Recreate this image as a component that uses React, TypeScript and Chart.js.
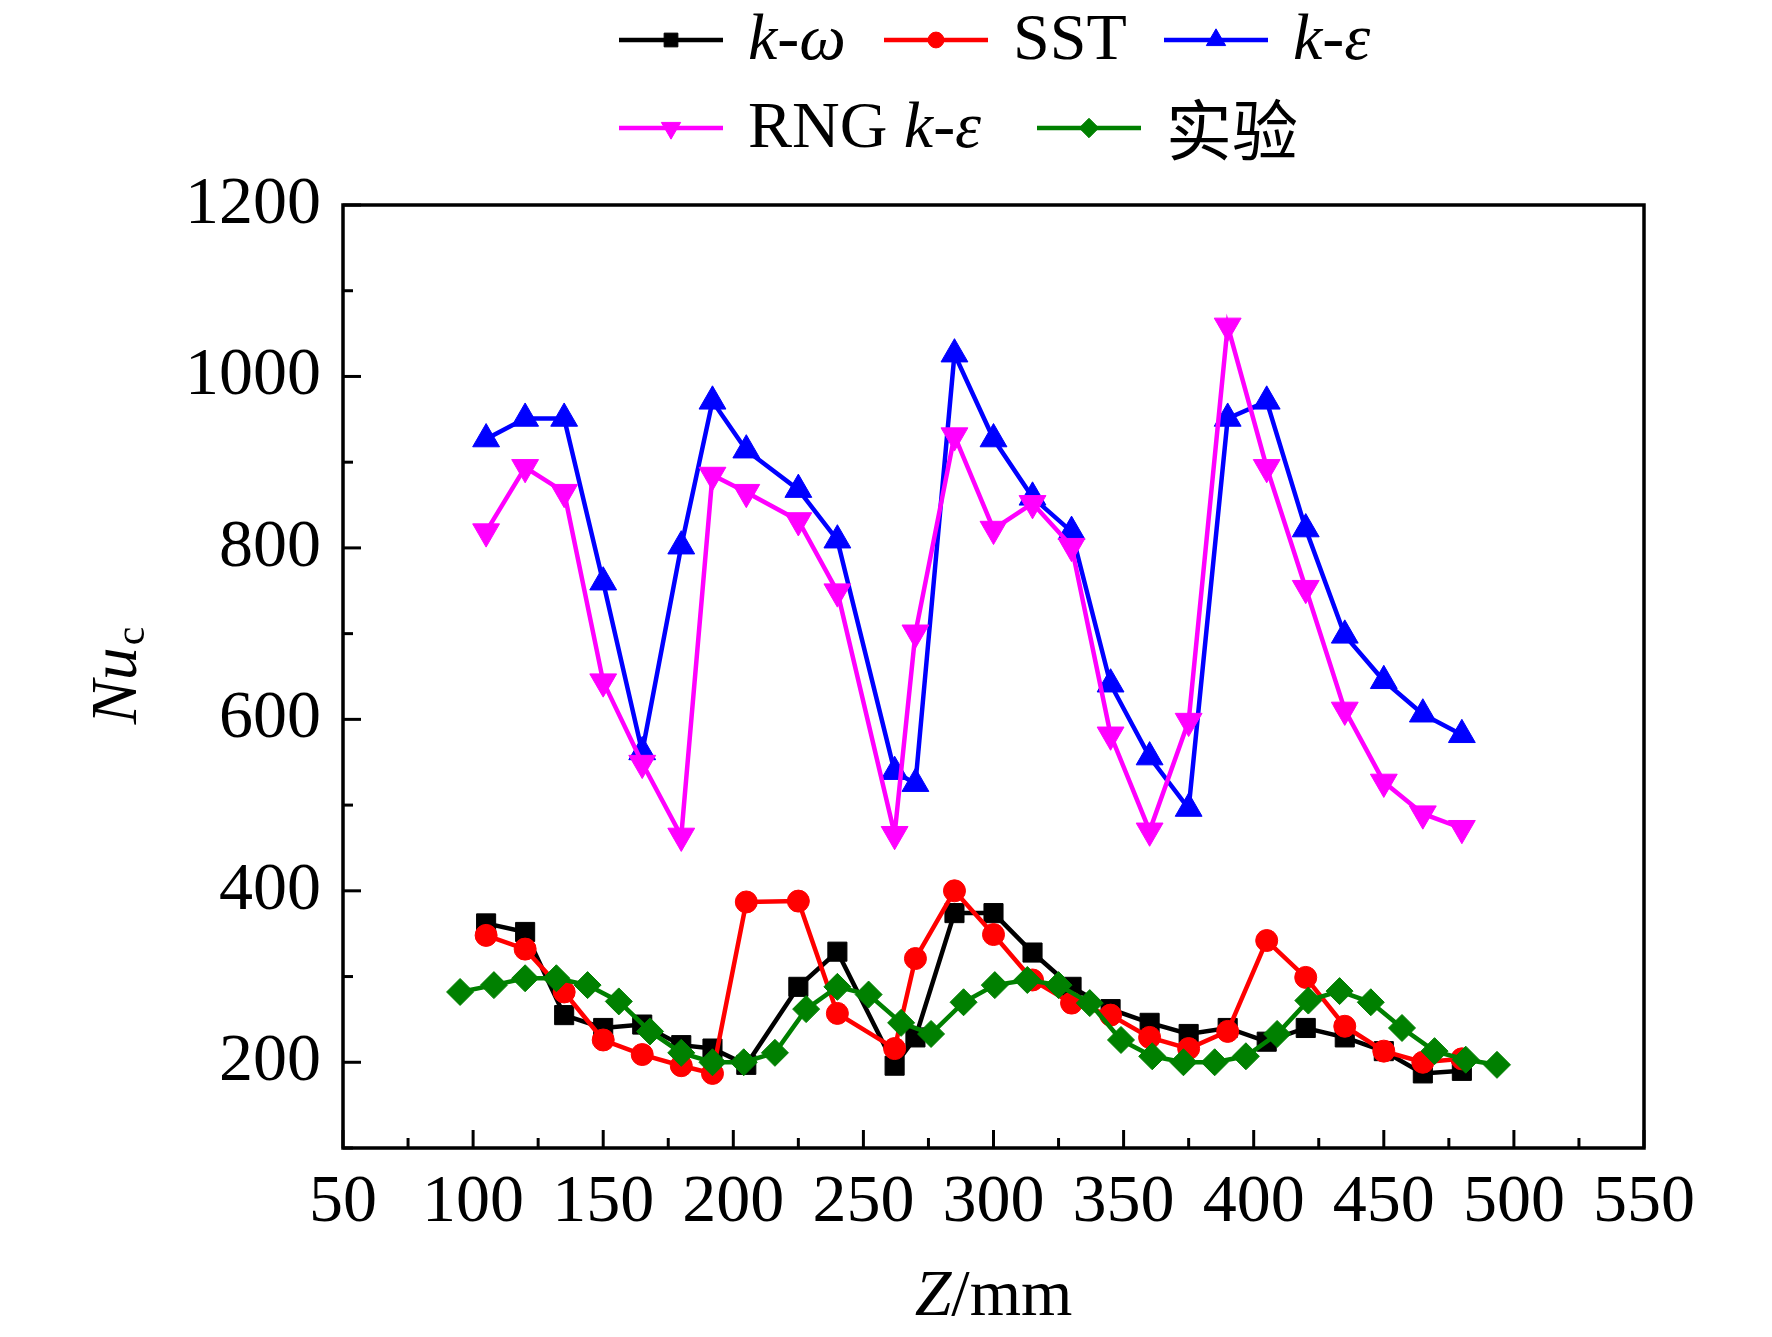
import { useEffect, useRef } from 'react';
import { Chart, registerables } from 'chart.js';
import { drawPoint } from 'chart.js/helpers';

Chart.register(...registerables);

// Z positions (mm) of the simulation points
const zSim = [105, 120, 135, 150, 165, 180, 192, 205, 225, 240, 262, 270, 285, 300, 315, 330, 345, 360, 375, 390, 405, 420, 435, 450, 465, 480];
const kOmega = [362, 352, 255, 240, 244, 220, 216, 197, 288, 329, 196, 229, 374, 374, 328, 288, 262, 246, 233, 240, 224, 240, 229, 213, 187, 190];
const sst = [348, 332, 282, 226, 209, 196, 187, 387, 388, 257, 216, 321, 400, 349, 296, 269, 255, 229, 216, 236, 342, 299, 242, 213, 200, 204];
const kEps = [927, 951, 951, 760, 562, 802, 971, 914, 868, 809, 539, 525, 1026, 927, 859, 819, 641, 556, 496, 951, 971, 822, 698, 645, 606, 582];
const rngKEps = [819, 894, 865, 644, 549, 464, 885, 865, 832, 749, 466, 701, 931, 822, 852, 802, 582, 470, 598, 1059, 894, 753, 611, 527, 490, 473];

// experiment
const zExp = [95, 108, 120, 132, 144, 156, 168, 180, 192, 204, 216, 228, 240, 252, 264.5, 276, 288.5, 300.5, 313, 325, 337, 349, 361, 373, 385, 397, 409, 421, 433, 445, 457, 469.5, 481.5, 493.5];
const expData = [282, 290, 298, 298, 290, 271, 236, 211, 200, 200, 211, 262, 288, 279, 246, 233, 270, 290, 296, 290, 269, 226, 207, 200, 200, 207, 233, 272, 283, 270, 240, 213, 203, 197];

const SERIF = 'Liberation Serif';
const CJK = 'Noto Sans CJK SC';

const series = [
  { key: 'kw', color: '#000000', style: 'rect', radius: 13.5, rotation: 0, z: zSim, v: kOmega },
  { key: 'sst', color: '#ff0000', style: 'circle', radius: 11, rotation: 0, z: zSim, v: sst },
  { key: 'ke', color: '#0000ff', style: 'triangle', radius: 15.5, rotation: 0, z: zSim, v: kEps },
  { key: 'rng', color: '#ff00ff', style: 'triangle', radius: 15.5, rotation: 180, z: zSim, v: rngKEps },
  { key: 'exp', color: '#008000', style: 'rectRot', radius: 13.5, rotation: 0, z: zExp, v: expData },
];

type Part = [string, boolean, string?];

const legendItems: { idx: number; x: number; y: number; parts: Part[] }[] = [
  { idx: 0, x: 619, y: 40, parts: [['k', true], ['-', false], ['ω', true]] },
  { idx: 1, x: 884, y: 40, parts: [['SST', false]] },
  { idx: 2, x: 1164, y: 40, parts: [['k', true], ['-', false], ['ε', true]] },
  { idx: 3, x: 619, y: 128, parts: [['RNG ', false], ['k', true], ['-', false], ['ε', true]] },
  { idx: 4, x: 1037, y: 128, parts: [['实验', false, CJK]] },
];

const font = (italic: boolean, size: number, family = SERIF) =>
  `${italic ? 'italic ' : ''}${size}px "${family}"`;

const drawParts = (ctx: CanvasRenderingContext2D, parts: Part[], x: number, y: number, size: number) => {
  let cx = x;
  parts.forEach(([t, it, fam]) => {
    ctx.font = font(it, size, fam || SERIF);
    ctx.fillText(t, cx, y);
    cx += ctx.measureText(t).width;
  });
};

const decorPlugin = {
  id: 'decor',
  afterDraw(chart: any) {
    const { ctx, chartArea: a, scales } = chart;
    const x = scales.x;
    const y = scales.y;
    ctx.save();
    ctx.strokeStyle = '#000';
    ctx.lineWidth = 3.5;
    ctx.strokeRect(a.left, a.top, a.right - a.left, a.bottom - a.top);

    // inward ticks
    ctx.lineWidth = 3;
    x.ticks.forEach((t: any) => {
      const px = x.getPixelForValue(t.value);
      const len = t.value % 50 === 0 ? 18 : 10;
      ctx.beginPath();
      ctx.moveTo(px, a.bottom);
      ctx.lineTo(px, a.bottom - len);
      ctx.stroke();
    });
    y.ticks.forEach((t: any) => {
      const py = y.getPixelForValue(t.value);
      const len = t.value % 200 === 0 ? 18 : 10;
      ctx.beginPath();
      ctx.moveTo(a.left, py);
      ctx.lineTo(a.left + len, py);
      ctx.stroke();
    });

    // legend
    ctx.fillStyle = '#000';
    ctx.textBaseline = 'middle';
    ctx.textAlign = 'left';
    legendItems.forEach((it) => {
      const s = series[it.idx];
      ctx.strokeStyle = s.color;
      ctx.lineWidth = 4.5;
      ctx.beginPath();
      ctx.moveTo(it.x, it.y);
      ctx.lineTo(it.x + 104, it.y);
      ctx.stroke();
      ctx.fillStyle = s.color;
      ctx.lineWidth = 1;
      drawPoint(ctx, { pointStyle: s.style, radius: s.radius * 0.72, rotation: s.rotation, borderWidth: 1 }, it.x + 52, it.y);
      ctx.fillStyle = '#000';
      drawParts(ctx, it.parts, it.x + 129, it.y + 2, 66);
    });

    // x title
    const xParts: Part[] = [['Z', true], ['/mm', false]];
    let w = 0;
    xParts.forEach(([t, i]) => { ctx.font = font(i, 66); w += ctx.measureText(t).width; });
    drawParts(ctx, xParts, (a.left + a.right) / 2 - w / 2, 1298, 66);

    // y title
    ctx.save();
    ctx.translate(119, (a.top + a.bottom) / 2);
    ctx.rotate(-Math.PI / 2);
    ctx.font = font(true, 66);
    const nw = ctx.measureText('Nu').width;
    ctx.font = font(false, 42);
    const cw = ctx.measureText('c').width;
    const sx = -(nw + cw) / 2;
    ctx.font = font(true, 66);
    ctx.fillText('Nu', sx, 0);
    ctx.font = font(false, 42);
    ctx.fillText('c', sx + nw + 2, 14);
    ctx.restore();

    ctx.restore();
  },
};

const App = () => {
  const canvasRef = useRef<HTMLCanvasElement | null>(null);
  const chartRef = useRef<Chart | null>(null);

  useEffect(() => {
    document.body.style.margin = '0';
    if (!canvasRef.current) return;
    if (chartRef.current) chartRef.current.destroy();

    chartRef.current = new Chart(canvasRef.current, {
      type: 'line',
      data: {
        datasets: series.map((s, i) => ({
          label: s.key,
          data: s.z.map((z, j) => ({ x: z, y: s.v[j] })),
          borderColor: s.color,
          backgroundColor: s.color,
          borderWidth: 4.5,
          pointStyle: s.style as any,
          pointRadius: s.radius,
          pointRotation: s.rotation,
          pointBorderWidth: 1,
          tension: 0,
          order: series.length - i,
        })),
      },
      options: {
        animation: false,
        responsive: false,
        devicePixelRatio: 1,
        layout: { padding: { top: 205, right: 128, left: 0, bottom: 0 } },
        plugins: {
          legend: { display: false },
          tooltip: { enabled: false },
        },
        scales: {
          x: {
            type: 'linear',
            min: 50,
            max: 550,
            grid: { display: false },
            border: { display: false },
            ticks: {
              stepSize: 25,
              autoSkip: false,
              maxRotation: 0,
              padding: 6,
              color: '#000',
              font: { family: SERIF, size: 68 },
              callback: (v: any) => (v % 50 === 0 ? String(v) : ''),
            },
            afterFit: (scale: any) => { scale.height = 189; },
          },
          y: {
            min: 100,
            max: 1200,
            grid: { display: false },
            border: { display: false },
            ticks: {
              stepSize: 100,
              autoSkip: false,
              padding: 14,
              color: '#000',
              font: { family: SERIF, size: 68 },
              callback: (v: any) => (v % 200 === 0 ? String(v) : ''),
            },
            afterFit: (scale: any) => { scale.width = 343; },
          },
        },
      },
      plugins: [decorPlugin],
    });

    return () => {
      if (chartRef.current) {
        chartRef.current.destroy();
        chartRef.current = null;
      }
    };
  }, []);

  return (
    <div style={{ width: 1772, height: 1337, background: '#fff' }}>
      <canvas ref={canvasRef} width={1772} height={1337} />
    </div>
  );
};

export default App;
